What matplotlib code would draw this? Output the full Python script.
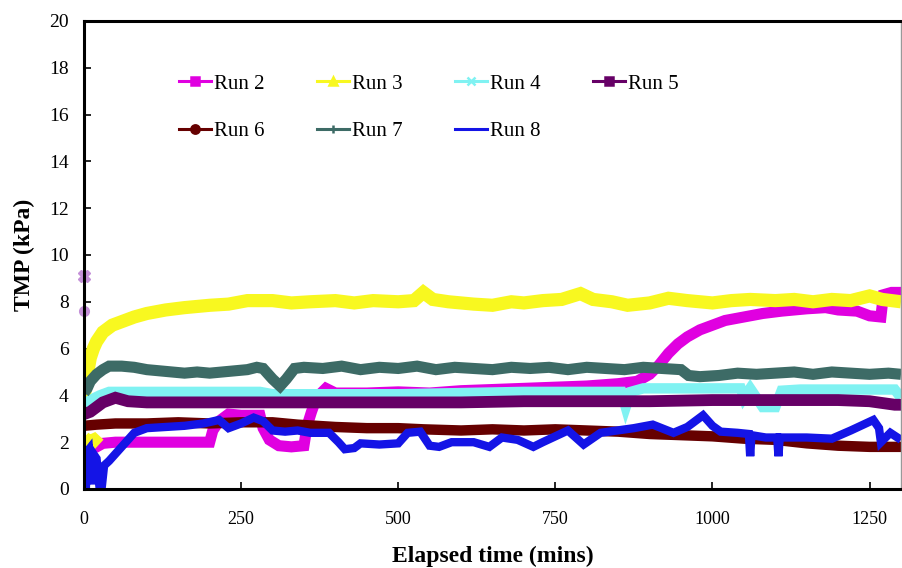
import numpy as np
import matplotlib.pyplot as plt
from matplotlib.lines import Line2D

plt.rcParams['font.family'] = ['Liberation Serif', 'DejaVu Serif']

# TMP readings (kPa) against elapsed time (mins) for each run
t_run2 = [0, 10, 20, 30, 50, 100, 150, 200, 205, 215, 230, 250, 280, 285, 295, 310, 330, 350,
          355, 362, 370, 385, 400, 450, 500, 550, 600, 650, 700, 750, 800, 850, 880, 900,
          915, 930, 945, 960, 980, 1000, 1020, 1050, 1080, 1110, 1150, 1180, 1200, 1230,
          1250, 1268, 1272, 1285, 1300]
v_run2 = [1.9, 1.8, 1.8, 1.95, 2.0, 2.0, 2.0, 2.0, 2.5, 2.9, 3.2, 3.15, 3.15, 2.6, 2.1, 1.85, 1.8, 1.85,
          2.7, 3.3, 3.9, 4.3, 4.1, 4.1, 4.15, 4.1, 4.2, 4.25, 4.3, 4.35, 4.4, 4.5, 4.6, 4.9,
          5.3, 5.8, 6.2, 6.5, 6.8, 7.0, 7.2, 7.35, 7.5, 7.6, 7.7, 7.75, 7.65, 7.6,
          7.4, 7.35, 8.3, 8.4, 8.4]

t_run3 = [0, 8, 16, 24, np.nan,
          0, 3, 6, 10, 15, 20, 30, 45, 60, 80, 100, 130, 160, 200, 230, 260, 300, 330, 360,
          400, 430, 460, 500, 525, 540, 555, 580, 620, 650, 680, 700, 730, 760, 790, 810,
          840, 865, 900, 930, 960, 1000, 1030, 1060, 1100, 1130, 1160, 1190, 1220, 1250,
          1270, 1300]
v_run3 = [2.2, 2.0, 2.1, 1.9, np.nan,
          3.9, 4.4, 5.0, 5.6, 6.0, 6.3, 6.7, 7.0, 7.15, 7.35, 7.5, 7.65, 7.75, 7.85, 7.9, 8.05, 8.05, 7.95, 8.0,
          8.05, 7.95, 8.05, 8.0, 8.05, 8.4, 8.1, 8.0, 7.9, 7.85, 8.0, 7.95, 8.05, 8.1, 8.35, 8.1,
          8.0, 7.85, 7.95, 8.15, 8.05, 7.95, 8.05, 8.1, 8.05, 8.1, 8.0, 8.1, 8.05, 8.25,
          8.1, 8.0]

t_run4 = [0, 10, 25, 40, 100, 200, 280, 300, 400, 500, 600, 700, 800, 855, 862, 870, 890,
          950, 1000, 1045, 1050, 1060, 1080, 1100, 1110, 1140, 1200, 1290, 1300]
v_run4 = [3.6, 3.8, 4.0, 4.15, 4.15, 4.15, 4.15, 4.05, 4.05, 4.05, 4.1, 4.15, 4.15, 4.15, 3.5, 4.15, 4.3,
          4.3, 4.3, 4.3, 3.9, 4.3, 3.5, 3.5, 4.2, 4.25, 4.25, 4.25, 3.9]

t_run5 = [0, 10, 20, 30, 50, 70, 100, 200, 300, 400, 500, 600, 700, 800, 900, 1000,
          1050, 1100, 1150, 1200, 1250, 1290, 1300]
v_run5 = [3.2, 3.3, 3.5, 3.7, 3.9, 3.75, 3.7, 3.7, 3.7, 3.7, 3.7, 3.7, 3.75, 3.75, 3.75, 3.8,
          3.8, 3.8, 3.8, 3.8, 3.75, 3.6, 3.6]

t_run6 = [0, 20, 50, 100, 150, 200, 250, 300, 340, 400, 450, 500, 540, 600, 650, 700, 750,
          800, 850, 900, 950, 1000, 1050, 1100, 1150, 1200, 1250, 1300]
v_run6 = [2.7, 2.75, 2.8, 2.8, 2.85, 2.8, 2.85, 2.85, 2.75, 2.65, 2.6, 2.6, 2.55, 2.5, 2.55, 2.5, 2.55,
          2.5, 2.45, 2.35, 2.3, 2.25, 2.15, 2.1, 1.95, 1.85, 1.8, 1.8]

t_run7 = [0, 5, 10, 20, 30, 40, 60, 80, 100, 120, 140, 160, 180, 200, 220, 240, 260, 275,
          285, 300, 312, 322, 335, 350, 380, 410, 440, 470, 500, 530, 560, 590, 620, 650,
          680, 710, 740, 770, 800, 830, 860, 890, 920, 950, 962, 980, 1010, 1040, 1070,
          1100, 1130, 1160, 1190, 1220, 1250, 1280, 1300]
v_run7 = [4.1, 4.3, 4.6, 4.9, 5.1, 5.25, 5.25, 5.2, 5.1, 5.05, 5.0, 4.95, 5.0, 4.95, 5.0, 5.05, 5.1, 5.2,
          5.15, 4.7, 4.4, 4.7, 5.15, 5.2, 5.15, 5.25, 5.1, 5.2, 5.15, 5.25, 5.1, 5.2, 5.15, 5.1,
          5.2, 5.15, 5.2, 5.1, 5.2, 5.15, 5.1, 5.2, 5.15, 5.1, 4.85, 4.8, 4.85, 4.95, 4.9,
          4.95, 5.0, 4.9, 5.0, 4.95, 4.9, 4.95, 4.9]

t_run8 = [0, 3, 5, 8, 12, 15, 20, 25, 28, 32, 40, 50, 60, 70, 80, 90, 100, 130, 160, 190,
          215, 230, 250, 270, 285, 300, 320, 340, 360, 390, 405, 415, 430, 440, 470, 500,
          515, 535, 550, 565, 585, 620, 645, 665, 690, 715, 730, 770, 795, 822, 875, 905,
          938, 960, 985, 1000, 1013, 1040, 1058, 1060, 1062, 1085, 1103, 1105, 1107, 1150,
          1190, 1220, 1256, 1265, 1268, 1283, 1300]
v_run8 = [1.8, 0.0, 1.6, 1.7, 0.2, 1.5, 1.3, 0.0, 0.0, 1.0, 1.2, 1.5, 1.8, 2.1, 2.4, 2.5, 2.6, 2.65, 2.7, 2.8,
          2.95, 2.6, 2.8, 3.05, 2.9, 2.5, 2.45, 2.5, 2.4, 2.4, 2.0, 1.7, 1.75, 1.95, 1.9, 1.95,
          2.4, 2.45, 1.85, 1.8, 2.0, 2.0, 1.8, 2.2, 2.1, 1.8, 2.0, 2.5, 1.9, 2.4, 2.6, 2.75,
          2.4, 2.65, 3.15, 2.7, 2.45, 2.4, 2.35, 1.4, 2.3, 2.2, 2.2, 1.4, 2.2, 2.2,
          2.15, 2.5, 2.95, 2.6, 2.0, 2.4, 2.1]

# two stray readings at start-up
t_stray = [0, 0]
v_stray = [9.1, 7.6]

runs = ['Run 2', 'Run 3', 'Run 4', 'Run 5', 'Run 6', 'Run 7', 'Run 8']
times = [t_run2, t_run3, t_run4, t_run5, t_run6, t_run7, t_run8]
values = [v_run2, v_run3, v_run4, v_run5, v_run6, v_run7, v_run8]
colors = ['#e000e0', '#f8f820', '#80f2f2', '#660066', '#660000', '#3d6b66', '#1414e6']
markers = ['s', '^', 'x', 's', 'o', '+', None]
widths = [8, 9.5, 7.5, 8.5, 7.5, 8, 6]

fig = plt.figure(figsize=(9.02, 5.68), dpi=100)
ax = fig.add_axes([0.0931, 0.1391, 0.9058, 0.824])

for i in range(len(runs)):
  ax.plot(times[i], values[i], color=colors[i], linewidth=widths[i], solid_joinstyle='miter',
          solid_capstyle='butt')

ax.plot(t_stray[:1], v_stray[:1], linestyle='none', marker='X', markersize=8, color='#c490d8', clip_on=False)
ax.plot(t_stray[1:], v_stray[1:], linestyle='none', marker='o', markersize=7, color='#c490d8', clip_on=False)

ax.set_xlim(0, 1300)
ax.set_ylim(0, 20)
ax.set_xticks([0, 250, 500, 750, 1000, 1250])
ax.set_yticks(range(0, 21, 2))
ax.tick_params(axis='both', direction='in', length=5, width=1.2)
ax.tick_params(axis='y', pad=11, labelsize=14)
ax.tick_params(axis='x', pad=16, labelsize=13)

for s in ['left', 'bottom', 'top']:
  ax.spines[s].set_linewidth(2.2)
ax.spines['right'].set_linewidth(1)
ax.spines['right'].set_color('#999999')

ax.set_xlabel('Elapsed time (mins)', fontsize=17, fontweight='bold', labelpad=13)
ax.set_ylabel('TMP (kPa)', fontsize=17, fontweight='bold', labelpad=10)

# legend: two rows, filled column by column
handles = [Line2D([], [], color=colors[i], linewidth=2.2, marker=markers[i], markersize=6,
                  markeredgewidth=1.8) for i in range(len(runs))]
order = [0, 4, 1, 5, 2, 6, 3]
ax.legend([handles[k] for k in order], [runs[k] for k in order], ncol=4, frameon=False,
          loc='upper left', bbox_to_anchor=(0.103, 0.909), fontsize=15, handlelength=1.55,
          handletextpad=0.15, columnspacing=2.5, labelspacing=1.35, borderpad=0)

plt.savefig('out.png', dpi=100)
